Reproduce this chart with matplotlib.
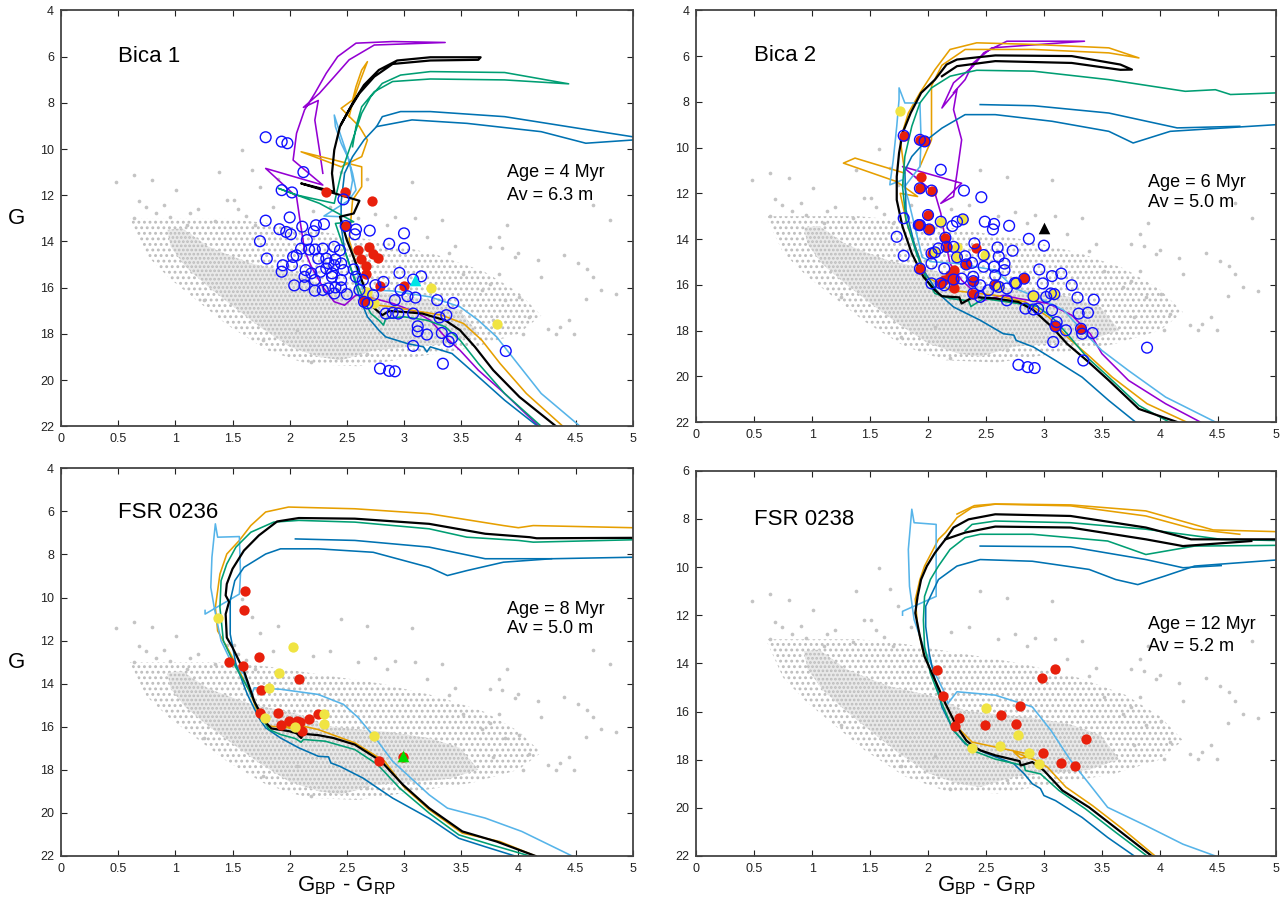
import matplotlib
matplotlib.use('Agg')
import matplotlib.pyplot as plt
from matplotlib.patches import Polygon
from matplotlib.ticker import MultipleLocator, FormatStrFormatter

plt.rcParams['font.family'] = ['Liberation Sans', 'DejaVu Sans']
plt.rcParams['mathtext.default'] = 'regular'
plt.rcParams['hatch.linewidth'] = 1.3

PURPLE = '#9400d3'
ORANGE = '#e69f00'
BLACK = '#000000'
GREEN = '#009e73'
BLUE = '#0072b2'
LBLUE = '#56b4e9'
RED = '#e8200c'
YELLOW = '#f0e442'
GREY = '#c4c4c4'

# ---- field stars (same field in all panels) ----
field_core = [(0.93, 13.5), (1.06, 13.43), (1.29, 14.23), (1.51, 14.67), (1.67, 14.96), (1.80, 15.1),
              (2.06, 15.39), (2.32, 15.97), (2.58, 16.11), (2.90, 16.26), (3.23, 16.54), (3.49, 16.98),
              (3.58, 17.55), (3.65, 17.99), (3.39, 18.42), (3.07, 18.56), (2.74, 18.71), (2.45, 19.14),
              (2.26, 19.0), (2.0, 18.56), (1.74, 17.7), (1.51, 16.83), (1.29, 15.97), (1.09, 15.1), (0.96, 14.23)]
field_halo = [(0.6, 13.0), (1.0, 13.0), (1.4, 13.0), (1.8, 13.2), (2.3, 13.6), (2.8, 14.0), (3.3, 14.6),
              (3.7, 15.3), (4.0, 16.2), (4.2, 17.2), (4.0, 18.0), (3.6, 18.6), (3.1, 19.0), (2.6, 19.4),
              (2.15, 19.3), (1.8, 18.7), (1.45, 17.6), (1.2, 16.6), (0.95, 15.6), (0.75, 14.6)]
field_stray = [(0.48, 11.42), (0.64, 11.13), (0.80, 11.35), (1.01, 11.78), (1.38, 10.98), (0.68, 12.27),
               (0.74, 12.5), (0.64, 13.0), (0.83, 12.79), (0.90, 12.43), (1.13, 12.79), (1.51, 12.21),
               (1.67, 10.91), (1.74, 11.63), (1.58, 10.05), (3.07, 11.42), (2.92, 12.93), (3.33, 13.08),
               (3.83, 13.8), (3.75, 14.23), (3.86, 14.3), (4.17, 14.81), (4.65, 12.43), (4.80, 13.08),
               (4.20, 15.55), (4.52, 14.95), (4.72, 16.11), (4.85, 16.26), (4.59, 16.48), (4.36, 17.7),
               (4.26, 17.77), (4.33, 17.99), (4.04, 17.99), (3.78, 17.41), (3.88, 16.54), (3.68, 16.11),
               (3.52, 15.39), (3.39, 14.52), (3.75, 15.82), (4.01, 16.4), (4.09, 17.26), (1.25, 16.54),
               (1.77, 18.27), (2.19, 19.21), (2.68, 18.85), (2.06, 17.84), (4.65, 15.55), (4.44, 17.41),
               (4.49, 17.99), (3.83, 15.39), (3.97, 14.67), (1.55, 12.6), (1.62, 12.9), (1.7, 13.3),
               (1.85, 12.5), (2.2, 12.7), (2.35, 12.5), (2.6, 13.0), (2.75, 12.8), (2.85, 13.3), (3.1, 13.0),
               (3.2, 13.8), (3.45, 14.2), (2.45, 11.0), (2.68, 11.3), (1.9, 11.3), (1.45, 12.2), (1.2, 12.6),
               (1.35, 13.1), (0.95, 12.95), (1.1, 13.3), (3.9, 13.3), (4.4, 14.6), (4.6, 15.2), (4.0, 14.5)]

# ---- Bica 1 ----
bica1_black = [(4.33, 22.0), (4.01, 20.73), (3.78, 19.57), (3.62, 18.56), (3.49, 17.84), (3.36, 17.41),
               (3.16, 17.12), (3.00, 17.05), (2.87, 17.01), (2.81, 17.19), (2.71, 16.76), (2.65, 15.96),
               (2.58, 14.95), (2.50, 13.94), (2.44, 12.93), (2.56, 12.79), (2.61, 12.24), (2.10, 11.49),
               (2.39, 11.85), (2.37, 11.05), (2.39, 10.04), (2.44, 9.03), (2.55, 8.02), (2.65, 7.23),
               (2.78, 6.58), (2.94, 6.17), (3.23, 6.03), (3.67, 6.03), (3.65, 6.14), (3.23, 6.17), (2.90, 6.32),
               (2.74, 6.87), (2.61, 7.59), (2.52, 8.31), (2.45, 8.92)]
bica1_green = [(4.20, 22.0), (3.88, 20.58), (3.65, 19.28), (3.49, 18.27), (3.36, 17.69), (3.20, 17.41),
               (3.00, 17.26), (2.84, 17.34), (2.82, 17.62), (2.78, 17.41), (2.71, 17.12), (2.65, 16.54),
               (2.55, 15.39), (2.47, 14.23), (2.40, 13.22), (2.56, 13.15), (2.26, 12.35), (1.90, 11.7),
               (2.06, 11.99), (2.39, 12.35), (2.45, 11.05), (2.55, 9.61), (2.63, 8.45), (2.71, 7.73),
               (2.81, 7.16), (2.97, 6.8), (3.23, 6.65), (3.88, 6.69), (4.44, 7.18), (3.88, 7.01), (3.23, 6.97),
               (2.90, 7.08), (2.74, 7.52), (2.63, 8.17), (2.58, 9.03), (2.55, 9.9)]
bica1_blue = [(4.17, 22.0), (3.88, 20.87), (3.62, 19.72), (3.42, 18.85), (3.23, 18.56), (3.20, 18.78),
              (3.17, 18.56), (3.03, 18.42), (2.84, 18.13), (2.78, 17.84), (2.68, 17.26), (2.61, 16.4),
              (2.55, 15.39), (2.48, 14.36), (2.45, 13.32), (2.45, 12.3), (2.48, 11.05), (2.55, 10.33),
              (2.65, 9.61), (2.76, 9.03), (2.81, 8.6), (2.97, 8.38), (3.23, 8.38), (3.88, 8.6), (4.52, 9.1),
              (5.0, 9.47)]
bica1_blue_2 = [(2.76, 9.03), (3.07, 8.74), (3.55, 8.89), (4.20, 9.25), (4.59, 9.75), (5.0, 9.61)]
bica1_lblue = [(4.54, 22.0), (4.20, 20.58), (3.97, 19.14), (3.81, 18.13), (3.65, 17.41), (3.49, 16.83),
               (3.23, 16.4), (2.90, 16.14), (2.74, 16.11), (2.65, 16.2), (2.60, 15.53), (2.55, 14.52),
               (2.48, 13.65), (2.45, 12.93), (2.30, 12.9), (2.52, 12.21), (2.55, 11.35), (2.52, 10.48),
               (2.45, 9.75), (2.40, 9.03), (2.39, 8.53), (2.44, 9.32), (2.50, 10.2), (2.55, 11.05),
               (2.58, 11.78), (2.52, 12.2)]
bica1_orange = [(4.39, 22.0), (4.07, 20.58), (3.84, 19.28), (3.68, 18.27), (3.52, 17.55), (3.33, 17.19),
                (3.07, 16.98), (2.90, 16.83), (2.77, 16.76), (2.74, 16.61), (2.65, 15.96), (2.58, 14.95),
                (2.52, 13.94), (2.55, 12.21), (2.63, 11.63), (2.63, 10.77), (2.10, 10.12), (2.45, 10.77),
                (2.63, 10.33), (2.68, 9.61), (2.61, 9.03), (2.45, 8.24), (2.55, 7.88), (2.58, 7.30),
                (2.63, 6.58), (2.68, 6.22), (2.62, 7.0), (2.55, 8.0), (2.52, 8.6)]
bica1_purple = [(4.18, 22.0), (3.88, 20.58), (3.65, 19.57), (3.49, 18.71), (3.36, 18.13), (3.23, 17.41),
                (3.10, 17.05), (2.90, 16.68), (2.74, 16.47), (2.58, 16.32), (2.48, 16.76), (2.39, 16.61),
                (2.29, 15.97), (2.19, 15.1), (2.13, 14.38), (2.09, 13.08), (2.06, 12.07), (1.79, 10.84),
                (2.29, 11.56), (2.03, 10.48), (2.06, 9.32), (2.13, 8.31), (2.22, 7.59), (2.32, 6.72),
                (2.42, 6.0), (2.58, 5.42), (2.90, 5.35), (3.36, 5.39), (2.74, 5.5), (2.52, 6.14), (2.39, 6.87),
                (2.26, 7.59), (2.12, 8.2), (2.25, 7.9), (2.22, 8.75), (2.26, 10.04), (2.29, 11.05)]
bica1_candidates = [(1.79, 9.49), (1.93, 9.68), (1.98, 9.75), (2.12, 11.0), (1.93, 11.78), (2.02, 11.88),
                    (2.47, 12.18), (1.79, 13.10), (2.00, 12.96), (1.74, 13.99), (1.91, 13.47), (1.97, 13.59),
                    (2.01, 13.69), (2.11, 13.36), (2.23, 13.30), (2.30, 13.25), (2.21, 13.56), (2.49, 13.33),
                    (2.58, 13.48), (2.57, 13.69), (2.70, 13.53), (3.00, 13.65), (2.87, 14.10), (3.00, 14.29),
                    (1.80, 14.74), (2.03, 14.67), (2.06, 14.60), (2.10, 14.31), (2.15, 13.94), (2.17, 14.35),
                    (2.22, 14.35), (2.29, 14.31), (2.39, 14.23), (2.44, 14.38), (2.25, 14.74), (2.32, 14.74),
                    (2.40, 14.78), (2.45, 14.95), (2.39, 15.03), (2.34, 14.95), (1.94, 15.03), (2.02, 15.03),
                    (1.93, 15.31), (2.14, 15.24), (2.19, 15.38), (2.27, 15.31), (2.32, 15.17), (2.37, 15.38),
                    (2.47, 15.24), (2.56, 15.21), (2.13, 15.53), (2.22, 15.67), (2.37, 15.53), (2.45, 15.67),
                    (2.58, 15.53), (2.64, 15.67), (2.04, 15.90), (2.13, 15.90), (2.22, 16.13), (2.29, 16.10),
                    (2.34, 16.03), (2.40, 15.99), (2.45, 15.99), (2.39, 16.25), (2.50, 16.28), (2.61, 16.10),
                    (2.73, 16.32), (2.75, 15.89), (2.82, 15.75), (2.96, 15.36), (3.08, 15.65), (3.15, 15.51),
                    (2.97, 16.10), (2.92, 16.54), (3.03, 16.37), (3.10, 16.43), (3.29, 16.54), (3.43, 16.66),
                    (2.84, 17.12), (2.90, 17.09), (2.95, 17.12), (3.08, 17.12), (3.31, 17.29), (3.37, 17.19),
                    (3.12, 17.67), (3.12, 17.89), (3.20, 18.03), (3.33, 17.96), (3.39, 18.33), (3.42, 18.18),
                    (3.08, 18.52), (3.34, 19.29), (2.79, 19.50), (2.87, 19.60), (2.92, 19.62), (3.89, 18.74),
                    (2.65, 16.61), (2.68, 16.68)]
bica1_members = [(2.32, 11.88), (2.48, 11.88), (2.72, 12.24), (2.49, 13.33), (2.60, 14.38), (2.69, 14.23),
                 (2.62, 14.78), (2.73, 14.55), (2.77, 14.71), (2.67, 15.07), (2.67, 15.39), (2.79, 15.92),
                 (3.00, 15.92), (2.65, 16.57)]
bica1_yellow = [(3.24, 16.01), (3.81, 17.58), (2.68, 16.18), (2.74, 16.68)]
bica1_special = [(3.10, 15.68)]

# ---- Bica 2 ----
bica2_black = [(4.15, 22.0), (3.82, 21.43), (3.56, 20.18), (3.37, 19.31), (3.20, 18.58), (3.07, 17.85),
               (2.91, 17.11), (2.78, 16.75), (2.58, 16.6), (2.39, 16.53), (2.29, 16.82), (2.27, 16.55),
               (2.12, 16.5), (2.06, 16.24), (1.96, 15.65), (1.86, 14.63), (1.78, 13.46), (1.73, 12.29),
               (1.73, 11.27), (1.75, 10.24), (1.78, 9.37), (1.85, 8.49), (1.94, 7.61), (2.06, 7.03),
               (2.16, 6.37), (2.25, 6.15), (2.58, 5.97), (3.24, 6.0), (3.66, 6.37), (3.76, 6.59), (3.66, 6.6),
               (3.24, 6.3), (2.58, 6.22), (2.25, 6.44), (2.12, 6.88)]
bica2_green = [(4.08, 22.0), (3.82, 21.28), (3.56, 20.04), (3.37, 19.16), (3.20, 18.14), (3.07, 17.41),
               (2.94, 16.94), (2.48, 16.6), (2.37, 16.95), (2.35, 16.7), (2.19, 16.6), (2.06, 16.38),
               (1.99, 15.8), (1.90, 14.63), (1.81, 13.17), (1.78, 11.7), (1.80, 10.39), (1.86, 9.07),
               (1.93, 8.05), (2.03, 7.39), (2.19, 6.88), (2.42, 6.62), (2.91, 6.66), (3.56, 7.03),
               (4.22, 7.54), (4.48, 7.47), (4.61, 7.68), (5.0, 7.61)]
bica2_blue = [(3.79, 22.0), (3.56, 21.06), (3.33, 20.04), (3.10, 19.31), (2.91, 18.72), (2.76, 18.43),
              (2.74, 18.2), (2.65, 18.14), (2.45, 17.55), (2.22, 16.97), (2.09, 16.38), (1.96, 15.36),
              (1.88, 14.19), (1.81, 12.73), (1.80, 11.0), (1.86, 10.39), (1.99, 9.66), (2.12, 9.15),
              (2.32, 8.56), (2.58, 8.56), (3.07, 8.85), (3.56, 9.29), (3.77, 9.8), (4.09, 9.29), (5.0, 9.0)]
bica2_blue_2 = [(2.45, 8.12), (2.91, 8.17), (3.56, 8.49), (4.15, 9.14), (4.69, 9.07)]
bica2_lblue = [(4.48, 22.0), (4.05, 20.91), (3.73, 19.75), (3.50, 18.87), (3.33, 17.99), (3.17, 17.11),
               (2.97, 16.6), (2.75, 16.16), (2.58, 15.36), (2.25, 15.07), (2.03, 14.99), (1.95, 14.8),
               (1.90, 13.75), (1.83, 12.29), (1.78, 11.41), (1.67, 11.63), (1.70, 10.54), (1.73, 9.07),
               (1.75, 7.9), (1.75, 7.39), (1.80, 8.05), (1.93, 8.05), (1.94, 9.66), (1.93, 10.83), (1.80, 11.7)]
bica2_orange = [(4.23, 22.0), (3.89, 21.2), (3.59, 20.04), (3.40, 19.16), (3.20, 18.28), (3.04, 17.41),
                (2.84, 16.75), (2.58, 16.46), (2.32, 16.31), (2.19, 16.24), (1.99, 15.65), (1.90, 14.48),
                (1.81, 13.17), (1.76, 12.0), (1.91, 12.14), (1.73, 11.49), (1.27, 10.68), (1.37, 10.46),
                (1.80, 11.12), (1.76, 9.66), (1.83, 8.49), (1.93, 7.61), (2.06, 6.59), (2.19, 5.71),
                (2.42, 5.42), (2.91, 5.49), (3.56, 5.64), (3.82, 6.08), (3.56, 5.86), (2.91, 5.71),
                (2.32, 5.71), (2.12, 6.4), (2.03, 7.3), (2.03, 9.66), (1.93, 10.83)]
bica2_purple = [(4.35, 22.0), (4.05, 21.2), (3.73, 20.18), (3.50, 19.01), (3.40, 18.14), (3.24, 17.33),
                (3.04, 16.82), (2.78, 16.6), (2.65, 16.46), (2.48, 16.68), (2.29, 15.8), (2.19, 15.07),
                (2.16, 14.34), (2.11, 12.87), (2.06, 12.0), (1.78, 10.83), (2.29, 11.56), (2.11, 12.44),
                (2.22, 12.14), (2.25, 11.12), (2.29, 9.66), (2.22, 8.34), (2.25, 7.46), (2.12, 8.27),
                (2.22, 7.17), (2.39, 6.44), (2.48, 5.86), (2.68, 5.35), (3.35, 5.35), (2.55, 5.64),
                (2.39, 6.3), (2.32, 7.03), (2.22, 7.6)]
bica2_candidates = [(2.11, 10.97), (2.31, 11.88), (2.46, 12.17), (1.79, 13.09), (1.93, 13.39), (2.01, 13.58),
                    (2.11, 13.24), (2.21, 13.43), (2.25, 13.24), (2.30, 13.14), (2.49, 13.24), (2.57, 13.34),
                    (2.56, 13.58), (2.70, 13.42), (2.87, 13.99), (3.00, 14.29), (1.73, 13.9), (1.79, 14.73),
                    (2.03, 15.07), (2.09, 14.41), (2.14, 15.29), (2.22, 14.34), (2.32, 14.75), (2.38, 15.04),
                    (2.40, 14.19), (2.48, 14.7), (2.60, 14.37), (2.73, 14.51), (2.61, 14.77), (2.57, 15.21),
                    (2.48, 15.21), (2.66, 15.07), (2.66, 15.36), (2.58, 15.59), (2.03, 15.94), (2.14, 16.02),
                    (2.29, 15.73), (2.39, 15.65), (2.45, 16.02), (2.52, 16.24), (2.68, 16.16), (2.76, 15.94),
                    (2.83, 15.73), (2.96, 15.33), (3.07, 15.62), (3.15, 15.51), (2.99, 15.94), (3.06, 16.38),
                    (3.02, 16.53), (3.24, 16.02), (3.29, 16.56), (3.43, 16.65), (2.68, 16.68), (2.84, 17.04),
                    (2.91, 17.08), (2.95, 17.04), (3.07, 17.11), (3.30, 17.26), (3.38, 17.22), (3.11, 17.63),
                    (3.19, 17.99), (3.33, 18.14), (3.42, 18.11), (3.08, 18.5), (3.34, 19.31), (2.78, 19.5),
                    (2.86, 19.6), (2.92, 19.64), (3.89, 18.75), (2.45, 16.53), (2.39, 16.38),
                    (1.79, 9.48), (1.93, 9.66), (1.97, 9.73), (1.93, 11.78), (2.03, 11.88), (2.00, 12.95),
                    (1.92, 13.39), (2.15, 13.94), (2.16, 14.34), (2.03, 14.63), (1.93, 15.29), (2.22, 15.77),
                    (2.11, 15.94), (2.39, 15.84), (2.58, 16.02), (3.10, 17.82), (3.32, 17.92), (2.33, 15.11),
                    (2.06, 14.58), (2.25, 14.8), (2.75, 15.92), (2.61, 16.09), (2.91, 16.5), (3.09, 16.41)]
bica2_members = [(1.79, 9.48), (1.93, 9.66), (1.97, 9.73), (1.94, 11.27), (1.93, 11.78), (2.03, 11.88),
                 (2.00, 12.95), (1.92, 13.39), (2.01, 13.58), (2.15, 13.94), (2.16, 14.34), (2.03, 14.63),
                 (1.93, 15.29), (2.22, 15.36), (2.19, 15.58), (2.14, 15.8), (2.22, 15.77), (2.11, 15.94),
                 (2.22, 16.12), (2.41, 14.37), (2.33, 15.11), (2.39, 15.84), (2.58, 16.02), (2.39, 16.41),
                 (2.83, 15.7), (3.10, 17.82), (3.32, 17.92)]
bica2_yellow = [(1.76, 8.42), (2.11, 13.24), (2.30, 13.14), (2.25, 14.34), (2.06, 14.58), (2.25, 14.80),
                (2.49, 14.70), (2.75, 15.92), (2.61, 16.09), (2.91, 16.50), (3.09, 16.41)]
bica2_special = [(3.00, 13.5)]

# ---- FSR 0236 ----
fsr0236_black = [(4.15, 22.0), (3.81, 21.33), (3.51, 20.86), (3.22, 19.78), (2.99, 18.69), (2.80, 17.60),
                 (2.57, 16.83), (2.38, 16.52), (2.25, 16.39), (2.12, 16.33), (2.10, 16.52), (2.06, 16.3),
                 (1.99, 16.2), (1.84, 16.08), (1.78, 15.74), (1.69, 14.81), (1.60, 13.41), (1.50, 12.32),
                 (1.45, 11.86), (1.44, 10.77), (1.47, 10.2), (1.44, 9.9), (1.45, 9.37), (1.50, 8.67),
                 (1.60, 7.82), (1.73, 7.12), (1.89, 6.47), (2.08, 6.31), (2.57, 6.34), (3.22, 6.58),
                 (3.71, 7.04), (4.10, 7.2), (4.16, 7.25), (5.0, 7.23)]
fsr0236_orange = [(4.15, 22.0), (3.84, 21.33), (3.51, 20.94), (3.22, 19.85), (3.0, 18.8), (2.83, 17.6),
                  (2.57, 16.75), (2.25, 16.13), (2.05, 15.89), (1.95, 16.0), (2.1, 16.1), (1.82, 15.97),
                  (1.74, 15.6), (1.66, 14.5), (1.56, 13.41), (1.47, 12.48), (1.37, 11.55), (1.35, 10.46),
                  (1.39, 8.91), (1.45, 7.98), (1.56, 7.35), (1.66, 6.66), (1.79, 6.03), (1.99, 5.8),
                  (2.57, 5.88), (3.22, 6.11), (3.87, 6.66), (4.0, 6.76), (4.13, 6.66), (5.0, 6.76)]
fsr0236_green = [(4.10, 22.0), (3.77, 21.49), (3.48, 21.02), (3.22, 20.01), (2.96, 18.84), (2.77, 17.76),
                 (2.57, 17.06), (2.31, 16.67), (2.12, 16.59), (2.10, 16.72), (2.05, 16.55), (1.92, 16.36),
                 (1.82, 16.13), (1.74, 15.43), (1.65, 14.34), (1.53, 13.25), (1.42, 12.01), (1.39, 10.46),
                 (1.40, 9.22), (1.45, 8.44), (1.53, 7.66), (1.66, 6.97), (1.86, 6.5), (2.08, 6.42),
                 (2.57, 6.5), (3.22, 6.81), (3.55, 7.2), (4.0, 7.35), (4.13, 7.43), (5.0, 7.32)]
fsr0236_blue = [(3.97, 22.0), (3.71, 21.57), (3.48, 21.18), (3.22, 20.25), (2.90, 19.31), (2.64, 18.38),
                (2.44, 17.84), (2.36, 17.68), (2.34, 17.4), (2.25, 17.37), (2.08, 16.98), (1.92, 16.52),
                (1.79, 16.05), (1.73, 15.58), (1.63, 14.5), (1.53, 13.1), (1.48, 11.7), (1.48, 10.15),
                (1.52, 9.22), (1.60, 8.6), (1.79, 7.98), (1.92, 7.74), (2.25, 7.74), (2.73, 7.9), (3.22, 8.6),
                (3.38, 8.98), (3.55, 8.75), (3.87, 8.36), (4.29, 8.2), (5.0, 8.13)]
fsr0236_blue_2 = [(2.05, 7.28), (2.57, 7.35), (3.22, 7.66), (3.71, 8.2), (4.29, 8.2)]
fsr0236_lblue = [(4.47, 22.0), (4.03, 20.86), (3.71, 20.24), (3.38, 19.78), (3.22, 19.16), (3.06, 18.38),
                 (2.90, 17.6), (2.77, 16.67), (2.60, 15.58), (2.47, 14.96), (2.25, 14.5), (1.92, 14.26),
                 (1.69, 14.19), (1.66, 14.6), (1.64, 14.2), (1.60, 13.56), (1.47, 12.79), (1.40, 12.01),
                 (1.37, 11.24), (1.34, 10.46), (1.31, 9.53), (1.32, 8.13), (1.35, 6.58), (1.37, 7.2),
                 (1.56, 7.17), (1.57, 8.91), (1.56, 9.84), (1.26, 10.77), (1.26, 10.6)]
fsr0236_members = [(1.61, 9.71), (1.60, 10.58), (1.47, 12.98), (1.59, 13.19), (1.73, 12.76), (2.08, 13.77),
                   (1.75, 14.31), (1.74, 15.35), (1.90, 15.35), (1.92, 15.94), (1.99, 15.74), (2.06, 15.74),
                   (2.09, 15.8), (2.17, 15.63), (2.25, 15.43), (2.11, 16.20), (2.78, 17.57), (2.99, 17.42)]
fsr0236_yellow = [(2.03, 12.32), (1.91, 13.52), (1.82, 14.22), (1.37, 10.96), (1.78, 15.58), (2.30, 15.43),
                  (2.30, 15.89), (2.74, 16.42), (2.05, 16.02)]
fsr0236_special = [(2.99, 17.34)]

# ---- FSR 0238 ----
fsr0238_black = [(3.93, 22.0), (3.65, 20.95), (3.39, 19.98), (3.16, 19.28), (3.0, 18.45), (2.90, 18.1),
                 (2.80, 18.24), (2.79, 18.06), (2.58, 17.82), (2.45, 17.61), (2.38, 17.4), (2.33, 17.2),
                 (2.25, 16.64), (2.15, 15.67), (2.06, 14.69), (1.97, 13.72), (1.93, 12.88), (1.89, 11.91),
                 (1.91, 11.22), (1.94, 10.52), (1.99, 9.96), (2.06, 9.41), (2.15, 8.85), (2.22, 8.36),
                 (2.35, 8.02), (2.58, 7.81), (3.23, 7.88), (3.88, 8.36), (4.27, 8.85), (5.0, 8.85)]
fsr0238_black_2 = [(4.79, 8.92), (4.2, 9.13), (3.88, 8.85), (3.23, 8.36), (2.58, 8.32), (2.32, 8.57), (2.15, 8.85)]
fsr0238_orange = [(3.96, 22.0), (3.68, 20.88), (3.42, 19.91), (3.19, 19.14), (3.03, 18.31), (2.93, 18.03),
                  (2.74, 17.68), (2.80, 17.95), (2.9, 17.8), (2.38, 17.27), (2.25, 16.64), (2.15, 15.67),
                  (2.05, 14.6), (1.96, 13.58), (1.91, 12.47), (1.89, 11.35), (1.93, 10.52), (1.97, 9.96),
                  (2.09, 8.85), (2.15, 8.57), (2.25, 7.95), (2.38, 7.53), (2.58, 7.39), (3.23, 7.46),
                  (3.88, 7.88), (4.30, 8.43), (4.69, 8.64)]
fsr0238_orange_2 = [(2.25, 7.8), (2.40, 7.45), (2.58, 7.38), (3.23, 7.42), (3.88, 7.67), (4.46, 8.46), (5.0, 8.53)]
fsr0238_green = [(3.89, 22.0), (3.62, 21.02), (3.36, 20.05), (3.13, 19.28), (2.97, 18.59), (2.84, 18.45),
                 (2.83, 18.25), (2.58, 17.98), (2.38, 17.61), (2.22, 16.78), (2.12, 15.67), (2.02, 14.41),
                 (1.97, 13.3), (1.96, 12.2), (1.97, 11.22), (2.02, 10.52), (2.09, 9.96), (2.19, 9.27),
                 (2.32, 8.78), (2.45, 8.64), (2.90, 8.64), (3.55, 8.92), (3.88, 9.48), (4.30, 9.13), (5.0, 9.1)]
fsr0238_green_2 = [(2.32, 8.5), (2.38, 8.23), (2.58, 8.09), (3.23, 8.16), (3.88, 8.43), (4.53, 8.85), (5.0, 8.9)]
fsr0238_blue = [(3.78, 22.0), (3.55, 21.23), (3.33, 20.4), (3.10, 19.7), (3.0, 19.49), (2.97, 19.2),
                (2.90, 19.0), (2.83, 18.59), (2.74, 18.17), (2.51, 17.75), (2.32, 17.34), (2.22, 16.78),
                (2.12, 15.81), (2.06, 14.69), (2.01, 13.58), (1.98, 12.47), (1.98, 11.63), (2.09, 10.52),
                (2.25, 9.96), (2.45, 9.69), (2.90, 9.76), (3.39, 10.1), (3.62, 10.52), (3.81, 10.73),
                (4.04, 10.38), (4.30, 9.96), (5.0, 9.71)]
fsr0238_blue_2 = [(2.45, 9.13), (3.23, 9.16), (3.88, 9.69), (4.20, 10.03), (4.53, 9.94)]
fsr0238_lblue = [(4.48, 22.0), (4.20, 21.51), (3.88, 20.74), (3.55, 19.98), (3.39, 19.0), (3.23, 18.03),
                 (3.06, 16.78), (2.90, 15.81), (2.58, 15.32), (2.25, 15.18), (2.17, 15.67), (2.15, 15.3),
                 (2.06, 14.41), (1.96, 13.3), (1.88, 12.19), (1.84, 10.8), (1.83, 9.27), (1.86, 7.6),
                 (1.88, 8.16), (2.07, 8.23), (2.07, 11.22), (1.78, 11.84), (1.78, 12.0)]
fsr0238_members = [(2.08, 14.28), (3.10, 14.25), (2.98, 14.6), (2.13, 15.35), (2.79, 15.76), (2.63, 16.15),
                   (2.27, 16.29), (2.23, 16.6), (2.49, 16.54), (2.76, 16.53), (3.36, 17.15), (2.99, 17.72),
                   (3.15, 18.14), (3.27, 18.27)]
fsr0238_yellow = [(2.50, 15.85), (2.78, 16.97), (2.62, 17.45), (2.38, 17.5), (2.87, 17.71), (2.96, 18.2)]


def xy(points):
    return [p[0] for p in points], [p[1] for p in points]


def draw_panel(ax, name, age, av, ymin, tracks, members, yellow, candidates=None,
               special=None, special_color=None, text_y=(0.61, 0.56), name_y=0.89):
    # field stars: sparse halo, dense core, scattered outliers
    ax.add_patch(Polygon(field_halo, closed=True, facecolor='none', edgecolor='#bdbdbd',
                         hatch='...', lw=0, zorder=1))
    ax.add_patch(Polygon(field_core, closed=True, facecolor='#e9e9e9', edgecolor='#bcbcbc',
                         hatch='....', lw=0, zorder=1))
    fx, fy = xy(field_stray)
    ax.scatter(fx, fy, s=7, color=GREY, lw=0, zorder=1)

    for line, color in tracks:
        lx, ly = xy(line)
        ax.plot(lx, ly, color=color, lw=1.6 if color == BLACK else 1.15, zorder=2)

    mx, my = xy(members)
    ax.scatter(mx, my, s=55, color=RED, lw=0, zorder=3)
    if yellow:
        yx, yy = xy(yellow)
        ax.scatter(yx, yy, s=55, color=YELLOW, lw=0, zorder=3)
    if candidates:
        cx, cy = xy(candidates)
        ax.scatter(cx, cy, s=60, facecolors='none', edgecolors='#1010ff', lw=1.0, zorder=4)
    if special:
        sx, sy = xy(special)
        ax.scatter(sx, sy, s=70, marker='^', color=special_color, lw=0, zorder=5)

    ax.set_xlim(0, 5)
    ax.set_ylim(22, ymin)
    ax.xaxis.set_major_locator(MultipleLocator(0.5))
    ax.yaxis.set_major_locator(MultipleLocator(2))
    ax.xaxis.set_major_formatter(FormatStrFormatter('%g'))
    ax.tick_params(direction='in', length=4, width=0.8, top=True, right=True,
                   labelsize=9, colors='#222222', pad=5)
    for sp in ax.spines.values():
        sp.set_color('#444444')
        sp.set_linewidth(1.3)

    ax.text(0.1, name_y, name, transform=ax.transAxes, fontsize=16, va='center', ha='left')
    ax.text(0.78, text_y[0], 'Age = %s Myr' % age, transform=ax.transAxes, fontsize=13,
            va='center', ha='left')
    ax.text(0.78, text_y[1], 'Av = %s m' % av, transform=ax.transAxes, fontsize=13,
            va='center', ha='left')


fig = plt.figure(figsize=(12.87, 9.0), dpi=100)
ax1 = fig.add_axes([0.0474, 0.5263, 0.4442, 0.4622])
ax2 = fig.add_axes([0.5410, 0.5311, 0.4502, 0.4574])
ax3 = fig.add_axes([0.0474, 0.0489, 0.4442, 0.4308])
ax4 = fig.add_axes([0.5410, 0.0489, 0.4502, 0.4281])

draw_panel(ax1, 'Bica 1', '4', '6.3', 4,
           [(bica1_purple, PURPLE), (bica1_orange, ORANGE), (bica1_lblue, LBLUE),
            (bica1_blue, BLUE), (bica1_blue_2, BLUE), (bica1_green, GREEN), (bica1_black, BLACK)],
           bica1_members, bica1_yellow, bica1_candidates, bica1_special, '#00e5e5',
           text_y=(0.611, 0.556))
draw_panel(ax2, 'Bica 2', '6', '5.0', 4,
           [(bica2_purple, PURPLE), (bica2_orange, ORANGE), (bica2_lblue, LBLUE),
            (bica2_blue, BLUE), (bica2_blue_2, BLUE), (bica2_green, GREEN), (bica2_black, BLACK)],
           bica2_members, bica2_yellow, bica2_candidates, bica2_special, BLACK,
           text_y=(0.583, 0.533))
draw_panel(ax3, 'FSR 0236', '8', '5.0', 4,
           [(fsr0236_orange, ORANGE), (fsr0236_lblue, LBLUE), (fsr0236_blue, BLUE),
            (fsr0236_blue_2, BLUE), (fsr0236_green, GREEN), (fsr0236_black, BLACK)],
           fsr0236_members, fsr0236_yellow, None, fsr0236_special, '#00dd00',
           text_y=(0.637, 0.588), name_y=0.887)
draw_panel(ax4, 'FSR 0238', '12', '5.2', 6,
           [(fsr0238_orange, ORANGE), (fsr0238_orange_2, ORANGE), (fsr0238_lblue, LBLUE),
            (fsr0238_blue, BLUE), (fsr0238_blue_2, BLUE), (fsr0238_green, GREEN),
            (fsr0238_green_2, GREEN), (fsr0238_black, BLACK), (fsr0238_black_2, BLACK)],
           fsr0238_members, fsr0238_yellow, text_y=(0.6, 0.544), name_y=0.874)

for ax in (ax1, ax3):
    ax.set_ylabel('G', fontsize=16, rotation=0, ha='center', va='center')
    ax.yaxis.set_label_coords(-0.077, 0.5)
for ax in (ax3, ax4):
    ax.set_xlabel(r'G$_{BP}$ - G$_{RP}$', fontsize=16)
    ax.xaxis.set_label_coords(0.5, -0.048)

fig.savefig('out.png', dpi=100)
